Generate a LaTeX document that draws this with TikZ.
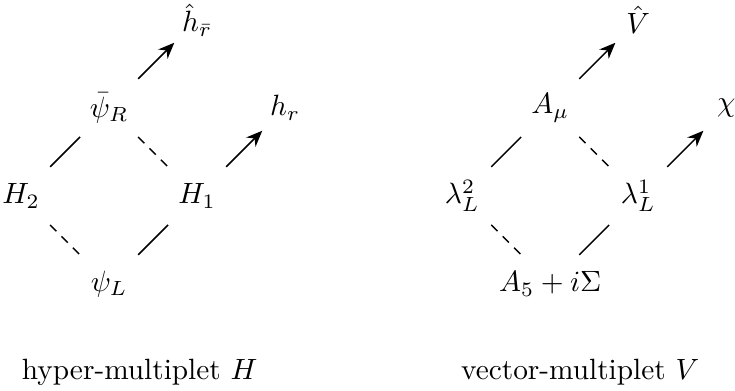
\documentclass[tikz,border=0pt]{standalone}
\usepackage{tikz}
\usetikzlibrary{positioning, arrows.meta}
\tikzset{>={Stealth[length=5.5pt,width=4.5pt]}, % filled arrow heads
node distance=30pt and 30pt, % half diagonal of each diamond
on grid,
solidlink/.style={line width=0.5pt, shorten <=14pt, shorten >=14pt}, % plain line of the diamond
dashlink/.style={solidlink, dash pattern=on 3pt off 2.5pt}, % dashed line of the diamond
liftarrow/.style={->, line width=0.5pt, shorten <=14pt, shorten >=11pt}, % arrow out of the diamond
}

\begin{document}
\begin{tikzpicture}
  \useasboundingbox (0,0) rectangle (250.6pt,133pt);

  % hyper-multiplet
  \node (psiR) at (37.2pt,96.2pt) {$\bar\psi_R$};
  \node[below left=of psiR] (H2) {$H_2$};
  \node[below right=of psiR] (H1) {$H_1$};
  \node[below right=of H2] (psiL) {$\psi_L$};
  \node[above right=of psiR] (hhat) {$\hat h_{\bar r}$};
  \node[above right=of H1] (hr) {$h_r$};
  \node[anchor=base] (capH) at (47.6pt,3.75pt) {hyper-multiplet $H$};

  % vector-multiplet
  \node[right=150.4pt of psiR] (Amu) {$A_\mu$};
  \node[below left=of Amu] (lam2) {$\lambda^2_L$};
  \node[below right=of Amu] (lam1) {$\lambda^1_L$};
  \node[below right=of lam2] (A5) {$A_5+i\Sigma$};
  \node[above right=of Amu] (Vhat) {$\hat V$};
  \node[above right=of lam1] (chi) {$\chi$};
  \node[anchor=base] (capV) at (197.8pt,3.75pt) {vector-multiplet $V$};

  \draw (psiR.center) edge[solidlink] (H2.center)
        (psiR.center) edge[dashlink] (H1.center)
        (H2.center) edge[dashlink] (psiL.center)
        (psiL.center) edge[solidlink] (H1.center)
        (psiR.center) edge[liftarrow] (hhat.center)
        (H1.center) edge[liftarrow] (hr.center);

  \draw (Amu.center) edge[solidlink] (lam2.center)
        (Amu.center) edge[dashlink] (lam1.center)
        (lam2.center) edge[dashlink] (A5.center)
        (A5.center) edge[solidlink] (lam1.center)
        (Amu.center) edge[liftarrow] (Vhat.center)
        (lam1.center) edge[liftarrow] (chi.center);

\end{tikzpicture}
\end{document}
